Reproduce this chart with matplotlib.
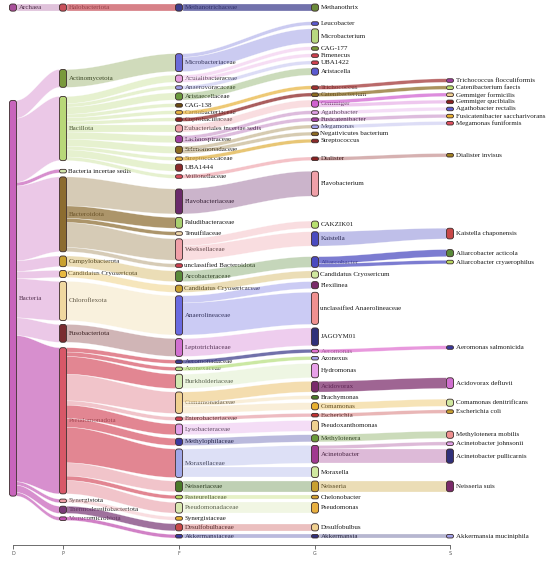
import numpy as np
import matplotlib
matplotlib.use("Agg")
import matplotlib.pyplot as plt
from matplotlib.patches import FancyBboxPatch, Polygon

# ---------------- data ----------------
levels = ["D", "P", "F", "G", "S"]

domains = ["Archaea", "Bacteria"]
domain_colors = ["#a8509a", "#c864bc"]

phyla = ["Halobacteriota", "Actinomycetota", "Bacillota", "Bacteria incertae sedis",
         "Bacteroidota", "Campylobacterota", "Candidatus Cryosericota", "Chloroflexota",
         "Fusobacteriota", "Pseudomonadota", "Synergistota", "Thermodesulfobacteriota",
         "Verrucomicrobiota"]
phylum_parent = ["Archaea"] + ["Bacteria"] * 12
phylum_value = [2, 5, 18, 1, 21, 3, 2, 11, 5, 41, 1, 2, 1]
phylum_colors = ["#c8505a", "#7a9a3c", "#b8d878", "#d0e4a8", "#8c6c30", "#c8a030", "#e8b840",
                 "#f0d8a0", "#7a2c30", "#d85868", "#f0a0a8", "#7a3a78", "#c050b0"]

families = ["Methanotrichaceae", "Microbacteriaceae", "Acutalibacteraceae", "Anaerovoracaceae",
            "Aristaecellaceae", "CAG-138", "Carnobacteriaceae", "Coprobacillaceae",
            "Eubacteriales incertae sedis", "Lachnospiraceae", "Selenomonadaceae",
            "Streptococcaceae", "UBA1444", "Veillonellaceae", "Flavobacteriaceae",
            "Paludibacteraceae", "Tenuifilaceae", "Weeksellaceae", "unclassified Bacteroidota",
            "Arcobacteraceae", "Candidatus Cryosericaceae", "Anaerolineaceae", "Leptotrichiaceae",
            "Aeromonadaceae", "Azonexaceae", "Burkholderiaceae", "Comamonadaceae",
            "Enterobacteriaceae", "Lysobacteraceae", "Methylophilaceae", "Moraxellaceae",
            "Neisseriaceae", "Pasteurellaceae", "Pseudomonadaceae", "Synergistaceae",
            "Desulfobulbaceae", "Akkermansiaceae"]
family_parent = ["Halobacteriota", "Actinomycetota"] + ["Bacillota"] * 12 + ["Bacteroidota"] * 5 + \
                ["Campylobacterota", "Candidatus Cryosericota", "Chloroflexota", "Fusobacteriota"] + \
                ["Pseudomonadota"] * 11 + ["Synergistota", "Thermodesulfobacteriota", "Verrucomicrobiota"]
family_value = [2, 5, 2, 1, 2, 1, 1, 1, 2, 2, 2, 1, 2, 1, 7, 3, 1, 6, 1, 3, 2, 11, 5,
                1, 1, 4, 6, 1, 3, 2, 8, 3, 1, 3, 1, 2, 1]
family_colors = ["#3c3c8c", "#6a6ad8", "#e8a0e0", "#9c9ce8", "#6a9a3c", "#6a4c10", "#e8b440",
                 "#8a2020", "#f0a0a8", "#a040a0", "#8a6a20", "#e0b040", "#8a2a2a", "#e05060",
                 "#6a2a6a", "#a8d070", "#f0d8a8", "#f0a0a8", "#d04050", "#5a8a3a", "#c8a030",
                 "#6a6ae0", "#d070d0", "#3a3a8a", "#b8e080", "#d0e8b0", "#f0d090", "#d04050",
                 "#e0a0e8", "#3a3aa0", "#a0a8e8", "#4a7a2a", "#b8d860", "#d8e8b0", "#e8b030",
                 "#c84848", "#3a3aa0"]

genera = ["Methanothrix", "Leucobacter", "Microbacterium", "CAG-177", "Fimenecus", "UBA1422",
          "Aristacella", "Trichococcus", "Catenibacterium", "Gemmiger", "Agathobacter",
          "Fusicatenibacter", "Megamonas", "Negativicutes bacterium", "Streptococcus", "Dialister",
          "Flavobacterium", "CAKZIK01", "Kaistella", "Aliarcobacter", "Candidatus Cryosericum",
          "Flexilinea", "unclassified Anaerolineaceae", "JAGOYM01", "Aeromonas", "Azonexus",
          "Hydromonas", "Acidovorax", "Brachymonas", "Comamonas", "Escherichia",
          "Pseudoxanthomonas", "Methylotenera", "Acinetobacter", "Moraxella", "Neisseria",
          "Chelonobacter", "Pseudomonas", "Desulfobulbus", "Akkermansia"]
genus_parent = ["Methanotrichaceae", "Microbacteriaceae", "Microbacteriaceae", "Acutalibacteraceae",
                "Acutalibacteraceae", "Anaerovoracaceae", "Aristaecellaceae", "Carnobacteriaceae",
                "Coprobacillaceae", "Eubacteriales incertae sedis", "Lachnospiraceae",
                "Lachnospiraceae", "Selenomonadaceae", "Selenomonadaceae", "Streptococcaceae",
                "Veillonellaceae", "Flavobacteriaceae", "Weeksellaceae", "Weeksellaceae",
                "Arcobacteraceae", "Candidatus Cryosericaceae", "Anaerolineaceae", "Anaerolineaceae",
                "Leptotrichiaceae", "Aeromonadaceae", "Azonexaceae", "Burkholderiaceae",
                "Comamonadaceae", "Comamonadaceae", "Comamonadaceae", "Enterobacteriaceae",
                "Lysobacteraceae", "Methylophilaceae", "Moraxellaceae", "Moraxellaceae",
                "Neisseriaceae", "Pasteurellaceae", "Pseudomonadaceae", "Desulfobulbaceae",
                "Akkermansiaceae"]
genus_value = [2, 1, 4, 1, 1, 1, 2, 1, 1, 2, 1, 1, 1, 1, 1, 1, 7, 2, 4, 3, 2, 2, 9, 5,
               1, 1, 4, 3, 1, 2, 1, 3, 2, 5, 3, 3, 1, 3, 2, 1]
genus_colors = ["#6a8a3a", "#5a5ad0", "#b8d880", "#7a9a3a", "#d04050", "#d04050", "#5a5ad0",
                "#a03030", "#8a6a20", "#d060d0", "#e0a0e8", "#a040a0", "#a0a0e8", "#8a6a20",
                "#8a2a2a", "#8a2020", "#f0a0a8", "#b8e070", "#4a4ac0", "#4a4ac0", "#d0e8a0",
                "#7a2a6a", "#f09090", "#30307a", "#e070d0", "#a0a0e8", "#e8a0e8", "#7a2a6a",
                "#4a7a2a", "#e8b030", "#c03030", "#f0d090", "#6a9a3a", "#a03a90", "#d0e8a0",
                "#c8a030", "#d0a030", "#e8b040", "#f0d090", "#30307a"]

species = ["Trichococcus flocculiformis", "Catenibacterium faecis", "Gemmiger formicilis",
           "Gemmiger qucibialis", "Agathobacter rectalis", "Fusicatenibacter saccharivorans",
           "Megamonas funiformis", "Dialister invisus", "Kaistella chaponensis",
           "Aliarcobacter acticola", "Aliarcobacter cryaerophilus", "Aeromonas salmonicida",
           "Acidovorax defluvii", "Comamonas denitrificans", "Escherichia coli",
           "Methylotenera mobilis", "Acinetobacter johnsonii", "Acinetobacter pullicarnis",
           "Neisseria suis", "Akkermansia muciniphila"]
species_parent = ["Trichococcus", "Catenibacterium", "Gemmiger", "Gemmiger", "Agathobacter",
                  "Fusicatenibacter", "Megamonas", "Dialister", "Kaistella", "Aliarcobacter",
                  "Aliarcobacter", "Aeromonas", "Acidovorax", "Comamonas", "Escherichia",
                  "Methylotenera", "Acinetobacter", "Acinetobacter", "Neisseria", "Akkermansia"]
species_value = [1, 1, 1, 1, 1, 1, 1, 1, 3, 2, 1, 1, 3, 2, 1, 2, 1, 4, 3, 1]
species_colors = ["#a040a0", "#b8e070", "#f0d090", "#8a2020", "#5a5ad0", "#e8b030", "#e05060",
                  "#a08020", "#c84848", "#5a8a3a", "#b8d860", "#3a3aa0", "#d070d0", "#d0e8a0",
                  "#c8a030", "#f09090", "#e0a0e8", "#30307a", "#7a2a6a", "#a0a0e8"]

# links drawn with a stronger tint (by target node)
strong_links = {"Methanotrichaceae", "Methanothrix", "Bacteria incertae sedis", "Pseudomonadota",
                "Synergistota", "Thermodesulfobacteriota", "Verrucomicrobiota",
                "Paludibacteraceae", "Tenuifilaceae", "Aeromonadaceae", "Azonexaceae",
                "Burkholderiaceae", "Lysobacteraceae", "Methylophilaceae", "Moraxellaceae",
                "Pasteurellaceae", "Desulfobulbaceae", "Akkermansiaceae", "Aeromonas", "Azonexus",
                "Trichococcus", "Catenibacterium", "Streptococcus", "Aliarcobacter acticola",
                "Aliarcobacter cryaerophilus", "Trichococcus flocculiformis",
                "Catenibacterium faecis", "Gemmiger formicilis", "Acidovorax defluvii",
                "Aeromonas salmonicida", "Acidovorax"}

# ---------------- graph ----------------
col_x = [13, 63, 179, 315, 450]
NODE_W = 7.0
PAD = 3.55
TOP, BOTTOM = 4.0, 538.0

real_cols = [domains, phyla, families, genera, species]
parents_lists = [[None] * len(domains), phylum_parent, family_parent, genus_parent, species_parent]
values_lists = [[0] * len(domains), phylum_value, family_value, genus_value, species_value]
colors_lists = [domain_colors, phylum_colors, family_colors, genus_colors, species_colors]

parent, vin, color, children, col_of = {}, {}, {}, {}, {}
for ci, (names, pars, vals, cc) in enumerate(zip(real_cols, parents_lists, values_lists, colors_lists)):
    for n, p, v, c in zip(names, pars, vals, cc):
        parent[n], vin[n], color[n], col_of[n] = p, v, c, ci
        children.setdefault(n, [])
        if p is not None:
            children.setdefault(p, []).append(n)

value = {}
for ci in range(4, -1, -1):
    for n in real_cols[ci]:
        value[n] = max(vin[n], sum(value[c] for c in children[n]))

# invisible pass-through nodes keep the room of branches that end early
hidden = set()
cols = [list(domains)]
for ci in range(1, 5):
    col = []
    for p in cols[ci - 1]:
        if not children[p]:
            ghost = f"__{p}__{ci}"
            parent[ghost], value[ghost], col_of[ghost] = p, value[p], ci
            children[ghost] = []
            children[p] = [ghost]
            hidden.add(ghost)
        col.extend(children[p])
    cols.append(col)
for n in cols[4]:
    children[n] = []

ky = min((BOTTOM - TOP - (len(c) - 1) * PAD) / sum(value[n] for n in c) for c in cols)
h = {n: value[n] * ky for n in value}

ws, off = {}, {}
for p, ch in children.items():
    if not ch:
        continue
    tot = sum(value[c] for c in ch)
    acc = 0.0
    for c in ch:
        ws[c] = value[c] / tot * h[p]
        off[c] = acc
        acc += ws[c]

# ---------------- layout (classic sankey relaxation) ----------------
y0 = {}
for col in cols:
    y = TOP
    for n in col:
        y0[n] = y
        y += h[n] + PAD


def resolve(nodes):
    y = TOP
    for n in nodes:
        if y0[n] < y:
            y0[n] = y
        y = y0[n] + h[n] + PAD
    over = y - PAD - BOTTOM
    if over > 0:
        y = BOTTOM + PAD
        for n in reversed(nodes):
            if y0[n] + h[n] + PAD > y:
                y0[n] = y - PAD - h[n]
            y = y0[n]


def spread(n):
    p = parent[n]
    sib = children[p]
    k, m = sib.index(n), len(sib)
    return (k - (m - 1) / 2) * PAD


for c in cols:
    resolve(c)

alpha = 1.0
for it in range(32):
    alpha *= 0.99
    for ci in range(len(cols) - 2, -1, -1):
        for n in cols[ci]:
            ch = children[n]
            if not ch:
                continue
            num = den = 0.0
            for c in ch:
                num += (y0[c] + h[c] / 2 - off[c] - ws[c] / 2 - spread(c)) * value[c]
                den += value[c]
            y0[n] += (num / den - y0[n]) * alpha
    for c in cols:
        resolve(c)
    for ci in range(1, len(cols)):
        for n in cols[ci]:
            p = parent[n]
            desired = y0[p] + off[n] + ws[n] / 2 + spread(n) - h[n] / 2
            y0[n] += (desired - y0[n]) * alpha
    for c in cols:
        resolve(c)

# ---------------- drawing ----------------
fig = plt.figure(figsize=(5.5, 5.61), dpi=100)
ax = fig.add_axes([0, 0, 1, 1])
ax.set_xlim(0, 550)
ax.set_ylim(561, 0)

t = np.linspace(0, 1, 60)
s = 3 * t ** 2 - 2 * t ** 3
for n, p in parent.items():
    if p is None or n in hidden:
        continue
    xa = col_x[col_of[p]] + NODE_W / 2
    xb = col_x[col_of[n]] - NODE_W / 2
    a0 = y0[p] + off[n]
    a1 = a0 + ws[n]
    b0 = y0[n]
    b1 = b0 + h[n]
    xs = xa + (xb - xa) * t
    top = a0 + (b0 - a0) * s
    bot = a1 + (b1 - a1) * s
    pts = np.concatenate([np.c_[xs, top], np.c_[xs[::-1], bot[::-1]]])
    al = 0.72 if n in strong_links else 0.35
    ax.add_patch(Polygon(pts, closed=True, fc=matplotlib.colors.to_rgba(color[p], al),
                         ec=(1, 1, 1, 0.6), lw=0.3, zorder=2))

for ci, col in enumerate(cols):
    for n in col:
        if n in hidden:
            continue
        x = col_x[ci]
        hh = max(h[n], 1.0)
        r = min(2.5, hh / 2, NODE_W / 2)
        ax.add_patch(FancyBboxPatch((x - NODE_W / 2, y0[n]), NODE_W, hh,
                                    boxstyle=f"round,pad=0,rounding_size={r}",
                                    fc=color[n], ec="#3a2a2a", lw=0.6, zorder=3))
        ax.text(x + NODE_W / 2 + 2, y0[n] + hh / 2, n, fontsize=5, family="Liberation Serif",
                color="#1a1a1a", va="center", ha="left", zorder=1)

for sp in ["top", "left", "right"]:
    ax.spines[sp].set_visible(False)
ax.spines["bottom"].set_position(("data", 545))
ax.spines["bottom"].set_bounds(col_x[0], col_x[-1])
ax.spines["bottom"].set_linewidth(0.6)
ax.spines["bottom"].set_color("#555555")
ax.set_xticks(col_x)
ax.set_xticklabels(levels)
ax.tick_params(axis="x", direction="out", length=3, width=0.6, colors="#555555",
               labelsize=3.5, pad=1.5)
ax.set_yticks([])

fig.savefig("out.png", dpi=100)
